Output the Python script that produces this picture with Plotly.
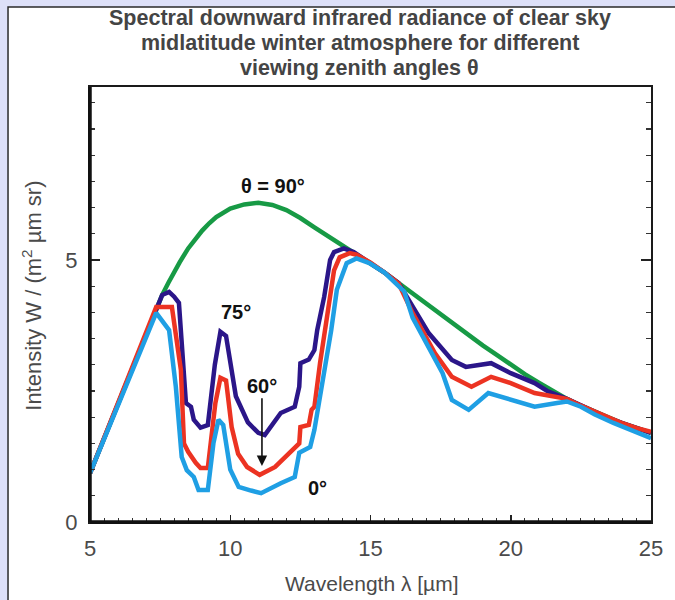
import plotly.graph_objects as go

# ---------------- data ----------------
x_90 = [5.0, 7.57, 7.8, 8.0, 8.2, 8.5, 8.8, 9.0, 9.25, 9.5, 10.0, 10.5, 11.0, 11.5, 12.0, 12.5,
        13.0, 13.5, 14.0, 14.5, 15.0, 15.5, 16.0, 16.5, 17.0, 17.5, 18.0, 18.5, 19.0, 19.5,
        20.0, 20.5, 21.0, 21.5, 22.0, 22.5, 23.0, 23.5, 24.0, 24.5, 25.0]
y_90 = [0.93, 4.33, 4.57, 4.77, 4.96, 5.22, 5.44, 5.56, 5.7, 5.82, 5.98, 6.06, 6.09, 6.05, 5.95,
        5.8, 5.62, 5.45, 5.27, 5.12, 4.95, 4.76, 4.56, 4.36, 4.15, 3.95, 3.75, 3.56, 3.37,
        3.19, 3.0, 2.82, 2.66, 2.5, 2.35, 2.22, 2.1, 1.98, 1.88, 1.79, 1.7]

x_75 = [5.0, 7.3, 7.57, 7.82, 8.0, 8.17, 8.3, 8.42, 8.6, 8.7, 8.94, 9.2, 9.45, 9.65, 9.85, 10.0,
        10.2, 10.63, 11.0, 11.23, 11.8, 12.3, 12.46, 12.5, 12.8, 13.0, 13.1, 13.35, 13.56, 13.7,
        14.05, 14.4, 15.0, 15.5, 16.0, 16.5, 17.08, 17.9, 18.4, 19.3, 20.0, 20.85, 21.3, 22.0,
        22.5, 23.0, 23.5, 24.0, 24.5, 25.0]
y_75 = [0.93, 3.95, 4.33, 4.39, 4.3, 4.18, 3.0, 2.27, 2.2, 1.95, 1.8, 1.85, 3.0, 3.63, 3.55, 3.0,
        2.4, 1.9, 1.7, 1.66, 2.08, 2.2, 2.58, 3.03, 3.1, 3.28, 3.66, 4.3, 5.0, 5.15,
        5.22, 5.15, 4.95, 4.76, 4.56, 4.1, 3.6, 3.09, 2.96, 3.03, 2.84, 2.65, 2.5, 2.35,
        2.22, 2.1, 1.98, 1.88, 1.79, 1.7]

x_60 = [5.0, 7.2, 7.36, 7.92, 8.1, 8.24, 8.35, 8.5, 8.77, 8.94, 9.2, 9.47, 9.65, 9.85, 10.05,
        10.28, 10.6, 11.05, 11.6, 12.15, 12.46, 12.5, 12.8, 12.9, 13.0, 13.2, 13.45, 13.7, 13.9,
        14.26, 14.5, 15.0, 15.5, 16.0, 16.5, 17.3, 17.9, 18.6, 19.3, 20.0, 20.85, 21.3, 22.0,
        22.5, 23.0, 23.5, 24.0, 24.5, 25.0]
y_60 = [0.93, 3.85, 4.1, 4.1, 3.5, 2.9, 1.5, 1.34, 1.13, 1.03, 1.03, 2.27, 2.75, 2.7, 1.81,
        1.3, 1.05, 0.9, 1.05, 1.32, 1.5, 1.81, 1.85, 2.14, 2.2, 3.03, 3.99, 4.8, 5.05,
        5.13, 5.1, 4.95, 4.76, 4.55, 3.99, 3.22, 2.77, 2.58, 2.77, 2.65, 2.46, 2.42, 2.35,
        2.22, 2.1, 1.98, 1.88, 1.79, 1.72]

x_0 = [5.0, 7.36, 7.82, 8.06, 8.27, 8.45, 8.7, 8.87, 9.2, 9.4, 9.58, 9.75, 10.0, 10.3, 10.74,
       11.1, 11.8, 12.3, 12.46, 12.85, 13.0, 13.17, 13.35, 13.6, 13.8, 14.15, 14.5, 14.96, 15.5,
       15.9, 16.2, 16.5, 17.08, 17.57, 17.9, 18.5, 19.2, 20.0, 20.85, 21.65, 22.0, 22.5, 23.0,
       23.66, 24.3, 25.0]
y_0 = [0.93, 3.99, 3.66, 2.58, 1.24, 0.99, 0.86, 0.61, 0.61, 1.5, 1.95, 1.85, 1.0, 0.67, 0.6,
       0.55, 0.74, 0.86, 1.32, 1.43, 1.76, 2.27, 2.8, 3.66, 4.43, 4.94, 5.03, 4.94, 4.76,
       4.55, 4.4, 3.9, 3.34, 2.84, 2.33, 2.14, 2.46, 2.33, 2.2, 2.27, 2.3, 2.2, 2.05,
       1.89, 1.75, 1.6]

x_ticks = [5, 10, 15, 20, 25]
y_ticks = [0, 5]

title_lines = ["Spectral downward infrared radiance of clear sky",
               "midlatitude winter atmosphere for different",
               "viewing zenith angles θ"]

# ---------------- figure ----------------
fig = go.Figure()
series = [(x_90, y_90, "#179a45", "θ = 90°"),
          (x_75, y_75, "#2b1689", "75°"),
          (x_60, y_60, "#ec3322", "60°"),
          (x_0, y_0, "#1f9fe4", "0°")]
for xs, ys, col, nm in series:
    fig.add_trace(go.Scatter(x=xs, y=ys, mode="lines", name=nm,
                             line=dict(color=col, width=4.5), showlegend=False,
                             hoverinfo="skip"))

L, R, T, B = 90, 17, 87, 78
W, H = 675, 600
pw, ph = W - L - R, H - T - B

def px_to_paper_x(px):
    return (px - L) / pw

def py_to_paper_y(py):
    return (H - B - py) / ph

# white panel with border on lavender page
fig.add_shape(type="rect", xref="paper", yref="paper",
              x0=px_to_paper_x(7), x1=px_to_paper_x(720),
              y0=py_to_paper_y(650), y1=py_to_paper_y(7),
              fillcolor="white", line=dict(color="#2a2a2a", width=1.5), layer="below")
# heavier left and bottom axis lines
fig.add_shape(type="line", xref="paper", yref="paper", x0=0, x1=0, y0=0, y1=1,
              line=dict(color="#111", width=3.5), layer="above")
fig.add_shape(type="line", xref="paper", yref="paper", x0=0, x1=1, y0=0, y1=0,
              line=dict(color="#111", width=3.5), layer="above")

FONT = "Liberation Sans, Arial, Helvetica"
tick_font = dict(family=FONT, size=22, color="#4a4a4a")
fig.update_xaxes(range=[5, 25], tickvals=x_ticks, ticktext=[str(v) for v in x_ticks],
                 ticks="inside", ticklen=7, tickwidth=1.5, tickcolor="#222",
                 showline=True, linecolor="#1a1a1a", linewidth=2.2, mirror=True,
                 showgrid=False, zeroline=False, tickfont=tick_font, ticklabelstandoff=5,
                 minor=dict(dtick=0.5, ticks="inside", ticklen=4, tickwidth=1, tickcolor="#333"))
fig.update_yaxes(range=[0, 8.3], tickvals=y_ticks, ticktext=[str(v) for v in y_ticks],
                 ticks="inside", ticklen=10, tickwidth=1.5, tickcolor="#222",
                 showline=True, linecolor="#1a1a1a", linewidth=2.2, mirror="ticks",
                 showgrid=False, zeroline=False, tickfont=tick_font, ticklabelstandoff=6,
                 minor=dict(dtick=0.5, ticks="inside", ticklen=5, tickwidth=1.2, tickcolor="#333"))

lab_font = dict(family=FONT, size=20, color="#111")
fig.add_annotation(x=11.51, y=6.41, text="<b>θ = 90°</b>", showarrow=False, font=lab_font)
fig.add_annotation(x=10.21, y=4.0, text="<b>75°</b>", showarrow=False, font=lab_font)
fig.add_annotation(x=13.1, y=0.65, text="<b>0°</b>", showarrow=False, font=lab_font)
# 60° label with arrow pointing down to the 60° curve
fig.add_annotation(x=11.13, y=1.07, ax=11.13, ay=2.6, xref="x", yref="y",
                   axref="x", ayref="y", text="<b>60°</b>", showarrow=True, font=lab_font,
                   arrowhead=2, arrowsize=1.3, arrowwidth=1.6, arrowcolor="#111")

# title lines
for py, line in zip([18, 43, 68], title_lines):
    fig.add_annotation(xref="paper", yref="paper", x=px_to_paper_x(363), y=py_to_paper_y(py),
                       text="<b>" + line + "</b>", showarrow=False,
                       xanchor="center", yanchor="middle",
                       font=dict(family=FONT, size=21.5, color="#444"))
# axis titles
fig.add_annotation(xref="paper", yref="paper", x=px_to_paper_x(376), y=py_to_paper_y(583),
                   text="Wavelength λ [µm]", showarrow=False, xanchor="center", yanchor="middle",
                   font=dict(family=FONT, size=21, color="#4a4a4a"))
fig.add_annotation(xref="paper", yref="paper", x=px_to_paper_x(31), y=py_to_paper_y(296),
                   text="Intensity W / (m<sup>2</sup> µm sr)", showarrow=False, textangle=-90,
                   xanchor="center", yanchor="middle",
                   font=dict(family=FONT, size=22, color="#4a4a4a"))

fig.update_layout(width=W, height=H, margin=dict(l=L, r=R, t=T, b=B),
                  paper_bgcolor="#dde0f8", plot_bgcolor="white", hovermode=False)

fig.write_html("out.html", config={"displayModeBar": False, "staticPlot": True},
               post_script="document.body.style.margin='0';document.body.style.background='#dde0f8';")
